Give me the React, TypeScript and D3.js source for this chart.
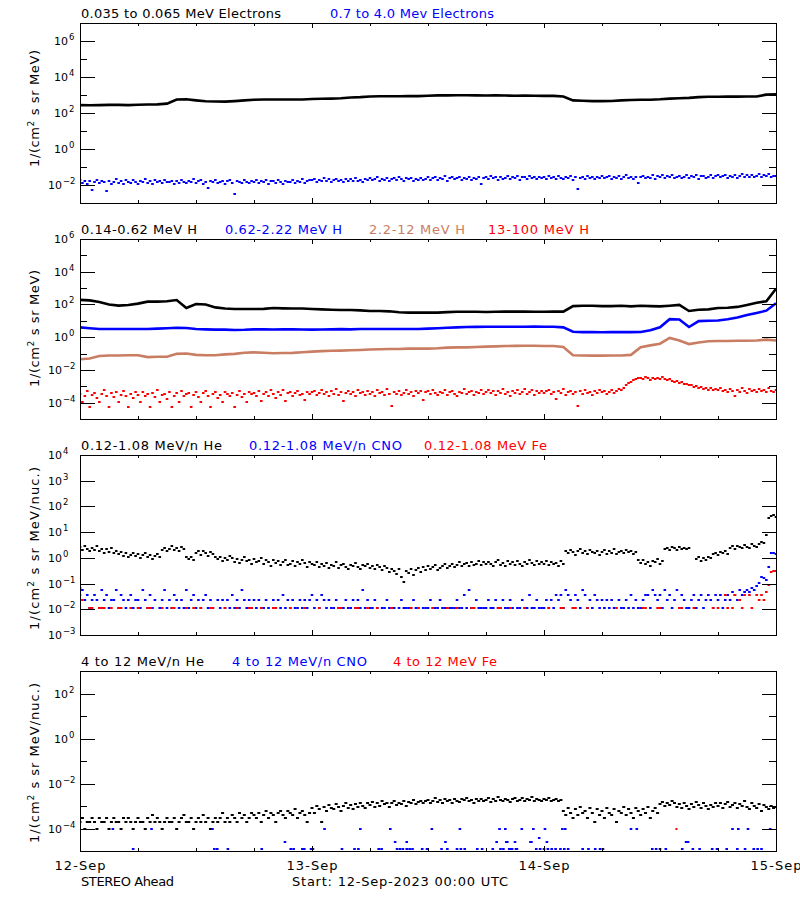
import React from "react";
import * as d3 from "d3";

// ---------------- text / categories ----------------
const dateTicks = ["12-Sep", "13-Sep", "14-Sep", "15-Sep"];
const footerLeft = "STEREO Ahead";
const footerStart = "Start: 12-Sep-2023 00:00 UTC";
const p1Titles = ["0.035 to 0.065 MeV Electrons", "0.7 to 4.0 Mev Electrons"];
const p2Titles = ["0.14-0.62 MeV H", "0.62-2.22 MeV H", "2.2-12 MeV H", "13-100 MeV H"];
const p3Titles = ["0.12-1.08 MeV/n He", "0.12-1.08 MeV/n CNO", "0.12-1.08 MeV Fe"];
const p4Titles = ["4 to 12 MeV/n He", "4 to 12 MeV/n CNO", "4 to 12 MeV Fe"];
const yUnitMeV = ["1/(cm", "2", " s sr MeV)"];
const yUnitNuc = ["1/(cm", "2", " s sr MeV/nuc.)"];

// ---------------- data (log10 flux) ----------------
// hourly
const e035Log = [
  2.44, 2.43, 2.44, 2.45, 2.45, 2.44, 2.46, 2.47, 2.48, 2.52,
  2.75, 2.76, 2.70, 2.65, 2.64, 2.63, 2.66, 2.70, 2.74, 2.75,
  2.75, 2.75, 2.75, 2.75, 2.78, 2.79, 2.80, 2.82, 2.86, 2.88,
  2.92, 2.93, 2.93, 2.93, 2.94, 2.94, 2.96, 2.98, 2.98, 2.99,
  2.99, 2.98, 2.97, 2.98, 2.97, 2.96, 2.97, 2.96, 2.95, 2.95,
  2.92, 2.70, 2.68, 2.66, 2.66, 2.67, 2.70, 2.72, 2.74, 2.74,
  2.76, 2.80, 2.82, 2.84, 2.88, 2.90, 2.90, 2.91, 2.91, 2.92,
  2.92, 3.02, 3.04,
];
// 15-minute cadence
const e07Log = [
  -1.72, -1.88, -1.80, -1.95, -1.76, -2.28, -1.84, -1.70, -1.90, -1.79, -1.86, -2.35, -1.75, -1.92, -1.81, -1.68, -1.87, -1.78, -1.96, -1.74, -1.83, -1.89, -1.71, -1.85,
  -1.93, -1.77, -1.82, -1.69, -1.88, -1.80, -1.97, -1.73, -1.84, -1.79, -1.91, -1.70, -1.86, -1.81, -1.75, -1.94, -1.78, -1.87, -1.72, -1.83, -1.90, -1.76, -1.85, -1.69,
  -1.88, -1.79, -1.74, -1.92, -1.81, -2.18, -1.77, -1.86, -1.70, -1.89, -1.83, -1.75, -1.95, -1.80, -1.72, -1.87, -2.48, -1.78, -1.84, -1.91, -1.73, -1.82, -1.88, -1.76,
  -1.85, -1.71, -1.90, -1.79, -1.84, -1.74, -1.93, -1.80, -1.77, -1.88, -1.70, -1.83, -1.92, -1.75, -1.81, -1.86, -1.72, -1.89, -1.78, -1.84, -1.69, -1.87, -1.80, -1.74,
  -1.74, -1.66, -1.82, -1.70, -1.77, -1.62, -1.79, -1.68, -1.85, -1.72, -1.64, -1.78, -1.71, -1.83, -1.66, -1.75, -1.69, -1.80, -1.63, -1.76, -1.70, -1.84, -1.67, -1.73,
  -1.62, -1.74, -1.68, -1.58, -1.77, -1.65, -1.71, -1.60, -1.80, -1.66, -1.63, -1.73, -1.57, -1.69, -1.75, -1.62, -1.68, -1.59, -1.78, -1.64, -1.70, -1.61, -1.74, -1.66,
  -1.58, -1.70, -1.63, -1.55, -1.73, -1.60, -1.66, -1.52, -1.75, -1.61, -1.57, -1.68, -1.63, -1.54, -1.71, -1.59, -1.65, -1.56, -1.74, -1.60, -1.67, -1.53, -1.95, -1.62,
  -1.55, -1.66, -1.51, -1.62, -1.57, -1.70, -1.53, -1.64, -1.59, -1.49, -1.68, -1.56, -1.61, -1.52, -1.72, -1.58, -1.54, -1.65, -1.50, -1.63, -1.57, -1.69, -1.53, -1.60,
  -1.54, -1.64, -1.50, -1.61, -1.56, -1.68, -1.52, -1.59, -1.66, -1.53, -1.62, -1.48, -1.70, -1.57, -2.20, -1.60, -1.55, -1.65, -1.51, -1.63, -1.58, -1.69, -1.54, -1.61,
  -1.52, -1.62, -1.57, -1.48, -1.66, -1.54, -1.60, -1.50, -1.64, -1.56, -1.47, -1.61, -1.53, -1.68, -1.55, -1.90, -1.58, -1.49, -1.63, -1.54, -1.59, -1.46, -1.65, -1.52,
  -1.56, -1.47, -1.61, -1.51, -1.58, -1.45, -1.63, -1.53, -1.49, -1.60, -1.55, -1.44, -1.62, -1.50, -1.57, -1.47, -1.65, -1.52, -1.48, -1.59, -1.54, -1.43, -1.61, -1.50,
  -1.46, -1.57, -1.51, -1.42, -1.59, -1.48, -1.54, -1.44, -1.61, -1.50, -1.40, -1.56, -1.47, -1.53, -1.43, -1.58, -1.49, -1.38, -1.55, -1.46, -1.52, -1.41, -1.57, -1.48, -1.50,
];
// hourly
const h014Log = [
  2.28, 2.25, 2.15, 2.00, 1.93, 1.97, 2.05, 2.17, 2.17, 2.20,
  2.27, 1.78, 2.03, 2.00, 1.82, 1.75, 1.72, 1.72, 1.72, 1.73,
  1.78, 1.76, 1.75, 1.75, 1.72, 1.70, 1.68, 1.66, 1.66, 1.64,
  1.60, 1.60, 1.58, 1.52, 1.50, 1.50, 1.50, 1.50, 1.53, 1.55,
  1.55, 1.55, 1.54, 1.55, 1.56, 1.56, 1.56, 1.55, 1.55, 1.56,
  1.56, 1.90, 1.92, 1.92, 1.90, 1.90, 1.92, 1.88, 1.92, 1.90,
  1.88, 1.92, 1.97, 1.60, 1.68, 1.70, 1.78, 1.80, 1.85, 1.97,
  2.10, 2.20, 2.96,
];
const h062Log = [
  0.60, 0.55, 0.50, 0.50, 0.50, 0.50, 0.50, 0.50, 0.52, 0.55,
  0.58, 0.56, 0.50, 0.48, 0.46, 0.46, 0.44, 0.45, 0.48, 0.48,
  0.47, 0.48, 0.48, 0.47, 0.46, 0.47, 0.48, 0.49, 0.48, 0.50,
  0.50, 0.50, 0.50, 0.50, 0.50, 0.50, 0.52, 0.55, 0.58, 0.60,
  0.62, 0.63, 0.64, 0.64, 0.64, 0.64, 0.64, 0.65, 0.64, 0.64,
  0.60, 0.33, 0.31, 0.31, 0.30, 0.31, 0.32, 0.31, 0.32, 0.42,
  0.60, 1.10, 1.08, 0.62, 0.98, 1.00, 1.02, 1.10, 1.20, 1.35,
  1.48, 1.62, 2.07,
];
const h22Log = [
  -1.35, -1.30, -1.15, -1.12, -1.12, -1.10, -1.10, -1.22, -1.20, -1.20,
  -1.02, -1.00, -1.08, -1.10, -1.10, -1.05, -1.02, -0.95, -0.93, -0.95,
  -0.98, -0.97, -0.96, -0.92, -0.88, -0.85, -0.83, -0.82, -0.80, -0.78,
  -0.75, -0.74, -0.72, -0.72, -0.70, -0.70, -0.70, -0.68, -0.64, -0.62,
  -0.62, -0.60, -0.58, -0.56, -0.54, -0.53, -0.52, -0.52, -0.54, -0.54,
  -0.60, -1.10, -1.12, -1.13, -1.13, -1.12, -1.12, -1.08, -0.62, -0.50,
  -0.40, -0.05, -0.20, -0.42, -0.32, -0.25, -0.23, -0.23, -0.22, -0.22,
  -0.20, -0.15, -0.20,
];
// 15-minute cadence
const h13Log = [
  -3.45, -3.95, -3.60, -3.30, -4.25, -3.52, -3.40, -3.70, -3.95, -3.48, -3.25, -3.58, -4.25, -3.42, -3.65, -3.35, -3.95, -3.55, -3.28, -3.62, -4.27, -3.45, -3.72, -3.38,
  -3.55, -3.95, -3.32, -3.60, -3.48, -4.25, -3.40, -3.68, -3.22, -3.95, -3.52, -3.45, -3.75, -3.35, -4.25, -3.58, -3.42, -3.95, -3.30, -3.62, -3.50, -3.40, -4.27, -3.55,
  -3.36, -3.65, -3.95, -3.44, -3.28, -3.58, -4.25, -3.48, -3.38, -3.70, -3.52, -3.95, -3.32, -3.46, -3.60, -3.40, -4.25, -3.55, -3.30, -3.66, -3.45, -3.95, -3.38, -3.50,
  -3.42, -3.62, -3.30, -3.92, -3.48, -3.36, -3.58, -3.25, -3.45, -3.70, -3.38, -3.52, -3.22, -3.90, -3.44, -3.34, -3.60, -3.40, -3.28, -3.55, -3.46, -3.85, -3.32, -3.50,
  -3.38, -3.28, -3.56, -3.42, -3.20, -3.48, -3.35, -3.62, -3.30, -3.45, -3.15, -3.52, -3.38, -3.88, -3.40, -3.26, -3.50, -3.34, -3.58, -3.22, -3.44, -3.36, -3.55, -3.30,
  -3.46, -3.32, -3.60, -3.24, -3.42, -3.38, -3.52, -3.18, -3.45, -4.20, -3.36, -3.48, -3.28, -3.56, -3.40, -3.22, -3.50, -3.34, -3.62, -3.30, -3.44, -3.26, -3.85, -3.38,
  -3.30, -3.48, -3.22, -3.42, -3.56, -3.34, -3.40, -3.20, -3.52, -3.36, -3.28, -3.46, -3.60, -3.32, -3.44, -3.18, -3.50, -3.38, -3.26, -3.54, -3.35, -3.42, -3.24, -3.48,
  -3.36, -3.20, -3.44, -3.30, -3.52, -3.26, -3.40, -3.16, -3.48, -3.34, -3.58, -3.28, -3.42, -3.22, -3.50, -3.32, -3.18, -3.46, -3.36, -3.24, -3.55, -3.30, -3.40, -3.26,
  -3.44, -3.30, -3.22, -3.50, -3.36, -3.80, -3.28, -3.42, -3.18, -3.52, -3.34, -3.26, -3.46, -3.38, -4.20, -3.30, -3.48, -3.24, -3.40, -3.32, -3.55, -3.28, -3.44, -3.20,
  -3.36, -3.26, -3.48, -3.32, -3.22, -3.40, -3.30, -3.18, -3.24, -3.10, -2.95, -2.80, -2.72, -2.62, -2.55, -2.50, -2.48, -2.56, -2.45, -2.52, -2.60, -2.47, -2.54, -2.50,
  -2.58, -2.46, -2.53, -2.62, -2.56, -2.66, -2.72, -2.68, -2.80, -2.76, -2.88, -2.84, -2.95, -2.90, -3.02, -2.98, -3.10, -3.05, -3.15, -3.08, -3.20, -3.12, -3.25, -3.15,
  -3.25, -3.12, -3.30, -3.20, -3.38, -3.15, -3.28, -3.60, -3.22, -3.34, -3.10, -3.26, -3.40, -3.18, -3.30, -3.22, -3.36, -3.14, -3.28, -3.20, -3.32, -3.12, -3.26, -3.35, -3.22,
];
// 15-minute cadence
const he012Log = [
  0.42, 0.30, 0.48, 0.35, 0.25, 0.40, 0.32, 0.45, 0.28, 0.36, 0.20, 0.33, 0.24, 0.38, 0.18, 0.28, 0.15, 0.22, 0.08, 0.18, 0.02, 0.12, 0.20, 0.06,
  0.14, 0.00, 0.10, 0.18, 0.04, 0.12, -0.04, 0.08, 0.16, 0.02, 0.30, 0.40, 0.28, 0.36, 0.45, 0.32, 0.38, 0.26, 0.42, 0.34, 0.05, -0.05, 0.02, -0.10,
  0.18, 0.25, 0.12, 0.28, 0.20, 0.08, 0.22, 0.15, 0.02, -0.06, 0.05, -0.12, 0.00, -0.08, 0.06, -0.02, -0.15, -0.05, -0.20, -0.08, 0.02, -0.14, -0.10, -0.22,
  -0.06, -0.18, -0.12, -0.02, -0.25, -0.10, -0.16, -0.30, -0.08, -0.20, -0.14, -0.26, -0.18, -0.10, -0.28, -0.22, -0.12, -0.32, -0.16, -0.24, -0.08, -0.20, -0.35, -0.15,
  -0.22, -0.28, -0.18, -0.36, -0.25, -0.30, -0.20, -0.40, -0.26, -0.32, -0.15, -0.38, -0.28, -0.22, -0.34, -0.42, -0.26, -0.30, -0.20, -0.36, -0.45, -0.28, -0.33, -0.24,
  -0.38, -0.30, -0.44, -0.26, -0.35, -0.48, -0.32, -0.40, -0.55, -0.42, -0.50, -0.62, -0.45, -0.75, -0.95, -0.52, -0.58, -0.44, -0.66, -0.48, -0.40, -0.55, -0.36, -0.46,
  -0.30, -0.42, -0.35, -0.28, -0.48, -0.38, -0.32, -0.25, -0.40, -0.30, -0.22, -0.35, -0.28, -0.18, -0.32, -0.24, -0.20, -0.30, -0.15, -0.26, -0.22, -0.12, -0.28, -0.18,
  -0.25, -0.15, -0.22, -0.30, -0.18, -0.10, -0.26, -0.20, -0.32, -0.14, -0.24, -0.18, -0.28, -0.12, -0.22, -0.30, -0.16, -0.24, -0.10, -0.20, -0.28, -0.14, -0.25, -0.18,
  -0.22, -0.12, -0.28, -0.16, -0.24, -0.20, -0.30, -0.14, -0.22, 0.25, 0.18, 0.30, 0.22, 0.12, 0.28, 0.35, 0.20, 0.26, 0.15, 0.32, 0.24, 0.18, 0.28, 0.10,
  0.22, 0.30, 0.16, 0.26, 0.20, 0.34, 0.14, 0.24, 0.28, 0.18, 0.32, 0.22, 0.26, 0.15, 0.24, -0.10, -0.20, -0.08, -0.25, -0.15, -0.32, -0.12, -0.18, -0.05,
  -0.22, -0.14, 0.35, 0.40, 0.32, 0.42, 0.38, 0.30, 0.44, 0.36, 0.40, 0.34, 0.38, null, null, -0.05, 0.02, -0.12, 0.00, -0.08, 0.04, -0.02, 0.15, 0.20,
  0.12, 0.22, 0.18, 0.25, 0.14, 0.40, 0.46, 0.36, 0.48, 0.42, 0.38, 0.50, 0.44, 0.40, 0.52, 0.46, 0.42, 0.54, 0.62, 0.58, 0.88, 1.55, 1.62, 1.66, 1.60,
];
// 15-minute cadence, counts (0 = no data)
const cno012Counts = [
  6,5,2,3,1,2,3,2,1,5,2,3,1,2,2,5,1,3,2,1,2,3,1,2,
  2,1,5,2,1,3,1,2,0,1,2,5,1,2,1,3,2,1,2,1,5,1,2,3,
  1,2,1,2,3,1,2,1,0,2,1,2,1,2,1,3,1,2,1,5,2,1,2,1,
  2,1,2,1,1,2,1,0,2,1,2,1,3,1,2,1,2,1,1,2,1,2,1,2,
  3,1,2,1,3,2,1,2,1,1,2,1,0,1,2,1,1,2,1,2,1,5,1,2,
  1,1,2,1,0,1,1,2,1,1,1,0,1,2,1,1,1,1,2,1,1,0,1,1,
  1,2,1,1,1,2,1,1,0,1,1,1,2,1,1,3,1,5,1,1,2,1,1,1,
  1,2,1,1,2,1,1,2,1,1,2,1,0,1,1,2,1,1,3,1,1,2,1,1,
  1,2,1,2,1,3,2,3,1,5,3,2,1,3,2,1,5,3,1,2,1,3,2,1,
  2,1,2,1,2,1,0,2,1,1,2,1,3,1,2,1,1,2,3,3,1,5,3,2,
  3,1,5,2,3,1,2,5,1,3,2,1,1,2,3,1,2,3,1,2,3,2,1,3,
  2,3,1,2,3,2,4,3,2,5,3,4,5,4,6,5,7,9,16,14,12,40,130,135,125,
];
const fe012Counts = [
  3,2,0,0,1,1,0,0,1,1,1,0,0,1,0,0,1,1,0,0,0,1,0,0,
  1,0,0,0,1,1,0,0,0,0,1,0,0,0,1,1,0,0,0,0,1,0,0,1,
  0,0,1,0,0,0,1,1,0,0,0,0,1,0,0,0,0,1,0,0,0,0,1,1,
  0,0,0,1,0,0,0,0,1,1,0,0,0,0,0,1,0,0,0,0,0,1,0,0,
  0,0,0,1,0,0,0,0,0,0,0,1,1,0,0,0,0,0,1,1,0,0,0,1,
  0,0,0,1,0,0,0,0,0,1,0,0,0,0,0,0,0,1,0,0,1,0,0,0,
  0,0,1,0,0,0,0,0,1,0,0,0,1,0,0,0,0,0,1,1,0,0,0,0,
  0,0,0,0,0,1,1,0,0,0,1,0,0,0,0,0,1,0,0,0,0,0,0,0,
  0,0,1,0,0,0,0,1,1,0,0,0,1,1,0,0,0,0,1,0,0,0,0,0,
  0,0,0,0,0,0,1,0,0,0,0,0,0,0,0,0,0,1,1,0,0,0,0,1,
  1,0,0,0,0,0,0,0,1,1,0,0,0,0,1,0,0,0,0,0,0,0,1,0,
  1,0,0,3,1,0,1,3,0,2,1,3,0,3,1,0,3,2,3,2,4,8,25,28,26,
];
const he4Counts = [
  2,3,1,2,2,3,2,1,3,2,2,3,1,2,3,2,2,1,3,2,3,2,1,2,
  3,2,2,1,3,2,4,2,3,2,1,2,3,2,2,3,1,2,3,4,2,2,3,1,
  2,3,2,4,2,3,1,2,3,2,3,5,2,3,2,4,3,2,5,3,4,2,3,5,
  4,3,5,2,4,6,3,5,4,2,5,6,4,3,6,5,4,7,3,5,6,4,2,5,
  8,5,10,7,2,9,6,11,8,7,12,9,6,10,13,8,11,7,12,9,14,10,8,13,
  11,15,9,13,10,16,12,14,9,13,17,11,14,12,16,10,15,13,18,12,15,17,13,16,
  19,14,17,22,15,18,13,20,16,19,14,21,17,15,20,18,23,16,19,14,21,17,20,16,
  18,22,15,20,17,24,19,16,21,18,15,20,23,17,19,22,16,20,18,24,17,21,19,16,
  20,18,22,17,19,21,16,18,6,4,8,5,3,7,4,9,5,6,3,8,5,2,7,4,
  6,3,8,5,4,7,2,6,5,9,4,7,5,3,8,6,4,7,5,9,3,6,8,5,
  12,15,10,14,11,16,13,9,12,8,14,10,7,12,9,15,11,8,13,10,7,11,9,14,
  10,13,8,12,15,9,11,14,8,12,10,16,9,7,13,10,8,12,6,11,9,7,10,8,9,
];
// sparse CNO 4-12 MeV/n: hours of occurrence, grouped by count level
const cno4Levels = [1, 2, 3, 8];
const cno4Hours = [
  [5.5, 13.9, 14.2, 15.3, 18.8, 21.8, 22.1, 23.0, 23.2, 23.9, 24.1, 27.1, 28.4, 28.8, 30.9, 31.2,
   32.8, 33.1, 33.4, 33.8, 34.1, 34.4, 35.4, 35.9, 37.4, 38.0, 39.0, 39.4, 39.8, 41.1, 41.6, 42.7,
   43.5, 43.8, 44.4, 44.6, 44.7, 45.1, 45.2, 47.2, 47.6, 48.0, 48.4, 48.8, 49.2, 49.7, 50.1, 50.5,
   52.0, 52.6, 53.3, 53.8, 54.1, 59.2, 59.6, 60.0, 60.6, 62.3, 63.4, 64.1, 65.4, 65.9, 66.9, 68.0,
   68.8, 69.7, 70.1, 70.5],
  [21.2, 32.6, 33.8, 37.8, 43.1, 44.1, 44.2, 45.0, 46.6, 46.7, 48.3, 62.7, 62.9],
  [47.5],
  [3.4, 7.4, 13.7, 25.3, 29.0, 32.1, 36.4, 39.3, 43.4, 44.0, 45.7, 46.9, 48.1, 49.9, 50.2, 57.0,
   57.6, 67.5, 68.1, 69.1, 71.4],
];
const fe4Hours = [61.7];
const fe4Values = [1e-4];

// ---------------- styling / layout ----------------
const BLACK = "#000000";
const BLUE = "#0000ff";
const BROWN = "#c97d62";
const RED = "#ff0000";
const FONT = "'DejaVu Sans', 'Liberation Sans', sans-serif";
const X0 = 80;
const X1 = 776;
const PH = 180;

type Pt = { t: number; v: number | null };
type Series = { kind: "line" | "dots"; pts: Pt[]; color: string; w?: number };

const fromLog = (arr: (number | null)[], step: number): Pt[] =>
  arr.map((v, i) => ({ t: i * step, v: v == null ? null : Math.pow(10, v) }));
const fromCounts = (arr: number[], step: number, unit: number): Pt[] =>
  arr.map((c, i) => ({ t: i * step, v: c > 0 ? c * unit : null }));

const cno4Pts: Pt[] = cno4Hours.flatMap((hs, li) => hs.map((t) => ({ t, v: cno4Levels[li] * 1.2e-5 })));
const fe4Pts: Pt[] = fe4Hours.map((t, i) => ({ t, v: fe4Values[i] }));

type PanelCfg = {
  top: number;
  domain: [number, number];
  labelExps: number[];
  majorExps: number[];
  minorExps: number[];
  posLabelX: number;
  negLabelX: number;
  yUnit: string[];
  yLabelLen: number;
  yLabelCenter: number;
  titles: { text: string; color: string; x: number; w: number }[];
  series: Series[];
};

const panels: PanelCfg[] = [
  {
    top: 23,
    domain: [1e-3, 1e7],
    labelExps: [-2, 0, 2, 4, 6],
    majorExps: [-2, 0, 2, 4, 6],
    minorExps: [-1, 1, 3, 5],
    posLabelX: 54,
    negLabelX: 48,
    yUnit: yUnitMeV,
    yLabelLen: 117,
    yLabelCenter: 108.5,
    titles: [
      { text: p1Titles[0], color: BLACK, x: 81, w: 200 },
      { text: p1Titles[1], color: BLUE, x: 330, w: 164 },
    ],
    series: [
      { kind: "line", pts: fromLog(e035Log, 1), color: BLACK },
      { kind: "dots", pts: fromLog(e07Log, 0.25), color: BLUE, w: 2.6 },
    ],
  },
  {
    top: 239,
    domain: [1e-5, 1e6],
    labelExps: [-4, -2, 0, 2, 4, 6],
    majorExps: [-4, -2, 0, 2, 4, 6],
    minorExps: [-3, -1, 1, 3, 5],
    posLabelX: 54,
    negLabelX: 48,
    yUnit: yUnitMeV,
    yLabelLen: 117,
    yLabelCenter: 328.5,
    titles: [
      { text: p2Titles[0], color: BLACK, x: 81, w: 116 },
      { text: p2Titles[1], color: BLUE, x: 225, w: 117 },
      { text: p2Titles[2], color: BROWN, x: 369, w: 96 },
      { text: p2Titles[3], color: RED, x: 488, w: 101 },
    ],
    series: [
      { kind: "line", pts: fromLog(h014Log, 1), color: BLACK },
      { kind: "line", pts: fromLog(h062Log, 1), color: BLUE },
      { kind: "line", pts: fromLog(h22Log, 1), color: BROWN },
      { kind: "dots", pts: fromLog(h13Log, 0.25), color: RED, w: 2.6 },
    ],
  },
  {
    top: 455,
    domain: [1e-3, 1e4],
    labelExps: [-3, -2, -1, 0, 1, 2, 3, 4],
    majorExps: [-2, -1, 0, 1, 2, 3],
    minorExps: [],
    posLabelX: 48,
    negLabelX: 48,
    yUnit: yUnitNuc,
    yLabelLen: 163,
    yLabelCenter: 548.5,
    titles: [
      { text: p3Titles[0], color: BLACK, x: 81, w: 141 },
      { text: p3Titles[1], color: BLUE, x: 249, w: 153 },
      { text: p3Titles[2], color: RED, x: 424, w: 123 },
    ],
    series: [
      { kind: "dots", pts: fromLog(he012Log, 0.25), color: BLACK, w: 2.6 },
      { kind: "dots", pts: fromCounts(cno012Counts, 0.25, 0.0115), color: BLUE, w: 2.6 },
      { kind: "dots", pts: fromCounts(fe012Counts, 0.25, 0.0115), color: RED, w: 2.6 },
    ],
  },
  {
    top: 671,
    domain: [1e-5, 1e3],
    labelExps: [-4, -2, 0, 2],
    majorExps: [-4, -2, 0, 2],
    minorExps: [-3, -1, 1],
    posLabelX: 54,
    negLabelX: 48,
    yUnit: yUnitNuc,
    yLabelLen: 160,
    yLabelCenter: 763,
    titles: [
      { text: p4Titles[0], color: BLACK, x: 81, w: 123 },
      { text: p4Titles[1], color: BLUE, x: 232, w: 135 },
      { text: p4Titles[2], color: RED, x: 393, w: 104 },
    ],
    series: [
      { kind: "dots", pts: fromCounts(he4Counts, 0.25, 1e-4), color: BLACK, w: 3 },
      { kind: "dots", pts: cno4Pts, color: BLUE, w: 2.6 },
      { kind: "dots", pts: fe4Pts, color: RED, w: 2 },
    ],
  },
];

function Panel({ cfg, idx }: { cfg: PanelCfg; idx: number }) {
  const x = d3.scaleLinear().domain([0, 72]).range([X0, X1]);
  const y = d3.scaleLog().domain(cfg.domain).range([cfg.top + PH, cfg.top]);
  const line = d3
    .line<Pt>()
    .defined((p) => p.v != null)
    .x((p) => x(p.t))
    .y((p) => y(p.v as number));
  const bottom = cfg.top + PH;
  const hourTicks = d3.range(0, 73, 6);
  const clipId = `clip${idx}`;
  const yl = Math.round;
  return (
    <g>
      <defs>
        <clipPath id={clipId}>
          <rect x={X0} y={cfg.top} width={X1 - X0 + 1} height={PH + 1} />
        </clipPath>
      </defs>
      {cfg.titles.map((tt, i) => (
        <text
          key={i}
          x={tt.x}
          y={cfg.top - 5}
          fontSize={13}
          fill={tt.color}
          textLength={tt.w}
          lengthAdjust="spacing"
        >
          {tt.text}
        </text>
      ))}
      <g clipPath={`url(#${clipId})`}>
        {cfg.series.map((s, si) =>
          s.kind === "line" ? (
            <path key={si} d={line(s.pts) || ""} fill="none" stroke={s.color} strokeWidth={2.6} />
          ) : (
            <g key={si} fill={s.color}>
              {s.pts
                .filter((p) => p.v != null)
                .map((p, i) => (
                  <rect
                    key={i}
                    x={x(p.t) - (s.w || 2) / 2}
                    y={yl(y(p.v as number)) - 1}
                    width={s.w || 2}
                    height={2}
                  />
                ))}
            </g>
          )
        )}
      </g>
      <rect x={X0 + 0.5} y={cfg.top + 0.5} width={X1 - X0} height={PH} fill="none" stroke="#000" strokeWidth={1} />
      {cfg.majorExps.map((e) => {
        const yy = yl(y(Math.pow(10, e))) + 0.5;
        return (
          <g key={"M" + e} stroke="#000" strokeWidth={1}>
            <line x1={X0} x2={X0 + 15} y1={yy} y2={yy} />
            <line x1={X1 - 14} x2={X1} y1={yy} y2={yy} />
          </g>
        );
      })}
      {cfg.minorExps.map((e) => {
        const yy = yl(y(Math.pow(10, e))) + 0.5;
        return (
          <g key={"m" + e} stroke="#000" strokeWidth={1}>
            <line x1={X0} x2={X0 + 7} y1={yy} y2={yy} />
            <line x1={X1 - 7} x2={X1} y1={yy} y2={yy} />
          </g>
        );
      })}
      {hourTicks.map((h) => {
        const xx = Math.round(x(h)) + 0.5;
        const len = h % 24 === 0 ? 5 : 3;
        return (
          <g key={"x" + h} stroke="#000" strokeWidth={1}>
            <line x1={xx} x2={xx} y1={cfg.top} y2={cfg.top + len} />
            <line x1={xx} x2={xx} y1={bottom} y2={bottom - len} />
          </g>
        );
      })}
      {cfg.labelExps.map((e) => {
        const yy = y(Math.pow(10, e));
        return (
          <text key={"l" + e} x={e < 0 ? cfg.negLabelX : cfg.posLabelX} y={yy + 4} fontSize={11} fill="#000">
            10
            <tspan dx={1} dy={-5} fontSize={8.5}>
              {e < 0 ? "\u2212" + -e : String(e)}
            </tspan>
          </text>
        );
      })}
      <text
        transform={`translate(39.3,${cfg.yLabelCenter + cfg.yLabelLen / 2}) rotate(-90)`}
        fontSize={13}
        fill="#000"
        textLength={cfg.yLabelLen}
        lengthAdjust="spacing"
      >
        {cfg.yUnit[0]}
        <tspan dy={-5} fontSize={9}>
          {cfg.yUnit[1]}
        </tspan>
        <tspan dy={5}>{cfg.yUnit[2]}</tspan>
      </text>
    </g>
  );
}

export default function App() {
  const x = d3.scaleLinear().domain([0, 72]).range([X0, X1]);
  return (
    <div style={{ position: "absolute", left: 0, top: 0 }}>
      <svg width={800} height={900} style={{ display: "block", fontFamily: FONT }}>
        <rect x={0} y={0} width={800} height={900} fill="#fff" />
        {panels.map((p, i) => (
          <Panel key={i} cfg={p} idx={i} />
        ))}
        {dateTicks.map((d, i) => (
          <text
            key={d}
            x={x(i * 24)}
            y={870}
            fontSize={13}
            textAnchor="middle"
            textLength={51}
            lengthAdjust="spacing"
          >
            {d}
          </text>
        ))}
        <text x={81} y={886} fontSize={13} textLength={93} lengthAdjust="spacing">
          {footerLeft}
        </text>
        <text x={292} y={886} fontSize={13} textLength={216} lengthAdjust="spacing">
          {footerStart}
        </text>
      </svg>
    </div>
  );
}
